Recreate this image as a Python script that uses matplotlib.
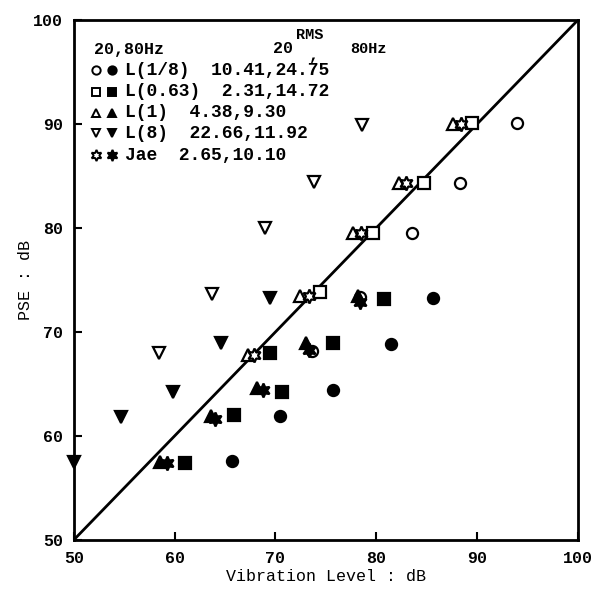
import matplotlib

matplotlib.use("Agg")

import matplotlib.pyplot as plt

# 20 Hz (open markers) and 80 Hz (filled markers): vibration level vs PSE, dB
l18_20_x = [94.0, 88.3, 83.6, 78.4, 73.6]
l18_20_y = [90.1, 84.3, 79.5, 73.4, 68.2]
l18_80_x = [85.6, 81.5, 75.7, 70.5, 65.7]
l18_80_y = [73.3, 68.8, 64.4, 61.9, 57.6]

l063_20_x = [89.5, 84.7, 79.7, 74.4]
l063_20_y = [90.1, 84.3, 79.5, 73.8]
l063_80_x = [80.8, 75.7, 69.5, 70.7, 65.9, 61.0]
l063_80_y = [73.2, 68.9, 68.0, 64.2, 62.0, 57.4]

l1_20_x = [87.6, 82.3, 77.7, 72.4, 67.3]
l1_20_y = [90.0, 84.3, 79.5, 73.5, 67.8]
l1_80_x = [78.2, 73.0, 68.2, 63.6, 58.6]
l1_80_y = [73.5, 68.9, 64.6, 61.9, 57.5]

l8_20_x = [58.5, 63.7, 69.0, 73.8, 78.6]
l8_20_y = [68.0, 73.7, 80.0, 84.4, 89.9]
l8_80_x = [50.0, 54.7, 59.8, 64.6, 69.5]
l8_80_y = [57.5, 61.8, 64.2, 68.9, 73.3]

jae_20_x = [88.4, 83.0, 78.5, 73.3, 67.9]
jae_20_y = [90.0, 84.3, 79.5, 73.5, 67.8]
jae_80_x = [78.4, 73.3, 68.8, 64.0, 59.2]
jae_80_y = [72.9, 68.3, 64.4, 61.6, 57.4]

legend_names = ["L(1/8)", "L(0.63)", "L(1)", "L(8)", "Jae"]
legend_rms = ["10.41,24.75", "2.31,14.72", "4.38,9.30", "22.66,11.92", "2.65,10.10"]

ticks = [50, 60, 70, 80, 90, 100]

STAR6 = (6, 1, 0)  # six-pointed star, like the hand-drawn Jae symbol

FONT = "Liberation Mono"
plt.rcParams["font.family"] = [FONT, "DejaVu Sans Mono"]
plt.rcParams["font.weight"] = "bold"

fig = plt.figure(figsize=(6.0, 5.92), dpi=100)
ax = fig.add_axes([0.123, 0.088, 0.840, 0.878])

ax.plot([50, 100], [50, 100], color="black", lw=2.0, zorder=1)

series = [
    (l18_20_x, l18_20_y, "o", False), (l18_80_x, l18_80_y, "o", True),
    (l063_20_x, l063_20_y, "s", False), (l063_80_x, l063_80_y, "s", True),
    (l1_20_x, l1_20_y, "^", False), (l1_80_x, l1_80_y, "^", True),
    (l8_20_x, l8_20_y, "v", False), (l8_80_x, l8_80_y, "v", True),
    (jae_20_x, jae_20_y, STAR6, False), (jae_80_x, jae_80_y, STAR6, True),
]
for xs, ys, mk, filled in series:
    size = 10 if mk == STAR6 else 8
    ax.plot(xs, ys, ls="none", marker=mk, ms=size, mew=1.6,
            mec="black", mfc="black" if filled else "white", zorder=3,
            clip_on=False)

# hand-made legend block
ax.text(73.4, 98.6, "RMS", fontsize=11, ha="center", va="center")
ax.text(52.0, 97.2, "20,80Hz", fontsize=12, ha="left", va="center")
ax.text(70.8, 97.3, "20", fontsize=12, ha="center", va="center")
ax.text(73.8, 96.6, ",", fontsize=12, ha="center", va="center")
ax.text(79.2, 97.2, "80Hz", fontsize=11, ha="center", va="center")
row_y = [95.2, 93.1, 91.1, 89.1, 87.0]
row_mk = ["o", "s", "^", "v", STAR6]
for yy, name, rms, mk in zip(row_y, legend_names, legend_rms, row_mk):
    size = 8 if mk == STAR6 else 6
    ax.plot([52.2], [yy], ls="none", marker=mk, ms=size, mew=1.4,
            mec="black", mfc="white")
    ax.plot([53.8], [yy], ls="none", marker=mk, ms=size, mew=1.4,
            mec="black", mfc="black")
    ax.text(55.1, yy, name + "  " + rms, fontsize=13, ha="left", va="center")

ax.set_xlim(50, 100)
ax.set_ylim(50, 100)
ax.set_xticks(ticks)
ax.set_yticks(ticks)
ax.tick_params(direction="in", length=6, width=1.5, labelsize=12, pad=8)
for side in ax.spines.values():
    side.set_linewidth(2.0)

ax.set_xlabel("Vibration Level : dB", fontsize=12, labelpad=2)
ax.set_ylabel("PSE : dB", fontsize=12, labelpad=0)

fig.savefig("out.png", dpi=100)
